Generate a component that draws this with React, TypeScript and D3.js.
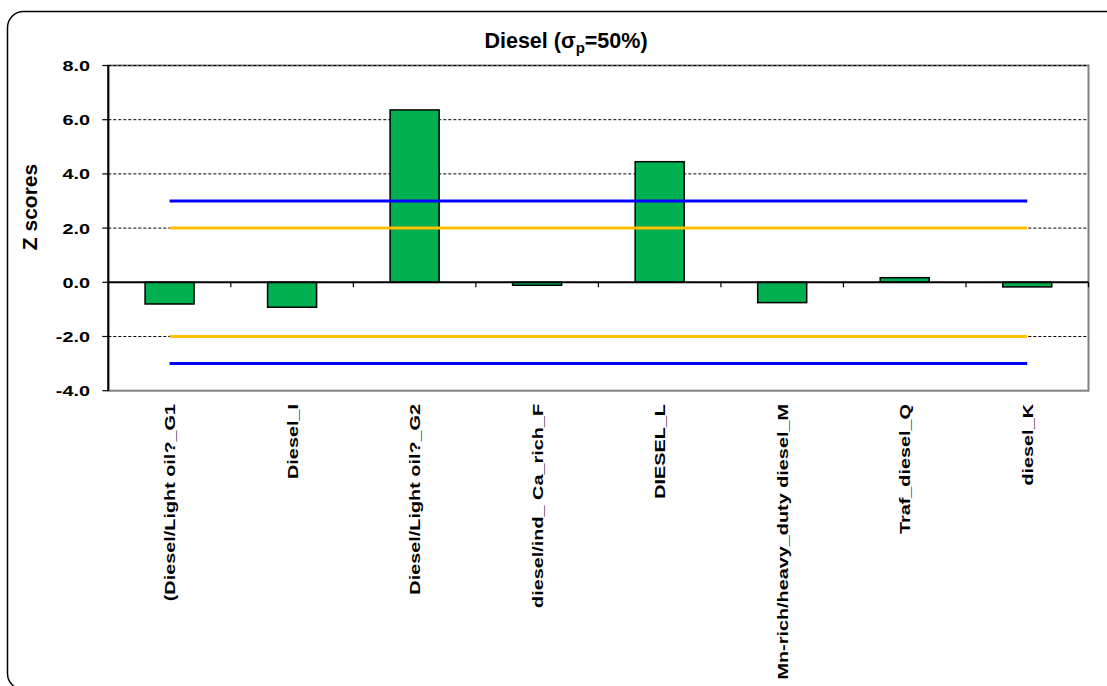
import React from "react";
import * as d3 from "d3";

const categories = [
  "(Diesel/Light oil?_G1",
  "Diesel_I",
  "Diesel/Light oil?_G2",
  "diesel/ind_ Ca_rich_F",
  "DIESEL_L",
  "Mn-rich/heavy_duty diesel_M",
  "Traf_diesel_Q",
  "diesel_K",
];
const zScores = [-0.8, -0.92, 6.36, -0.11, 4.45, -0.75, 0.17, -0.17];
const yTicks = [-4, -2, 0, 2, 4, 6, 8];
const gridValues = [-2, 2, 4, 6, 8];
const warnLimits = [2, -2];
const actionLimits = [3, -3];

const W = 1107;
const H = 686;
const FONT = "'Liberation Sans', Arial, sans-serif";
const STRETCH = 1.28;

export default function App() {
  const left = 108.3;
  const right = 1088.5;
  const top = 65.5;
  const bottom = 390.7;

  const x = d3.scaleBand<string>().domain(categories).range([left, right]).paddingInner(0.6).paddingOuter(0.3);
  const xb = d3.scaleBand<string>().domain(categories).range([left, right]);
  const y = d3.scaleLinear().domain([-4, 8]).range([bottom, top]);

  const firstC = (xb(categories[0]) ?? 0) + xb.bandwidth() / 2;
  const lastC = (xb(categories[categories.length - 1]) ?? 0) + xb.bandwidth() / 2;

  return (
    <svg
      width={W}
      height={H}
      style={{ position: "absolute", left: 0, top: 0, background: "#fff" }}
      fontFamily={FONT}
    >
      <rect x={7.5} y={11.5} width={1130} height={678} rx={16} fill="#fff" stroke="#000" strokeWidth={1.5} />

      {/* plot area border */}
      <rect x={left} y={top} width={right - left} height={bottom - top} fill="none" stroke="#808080" strokeWidth={2} />

      {/* gridlines */}
      {gridValues.map((v) => (
        <line key={"g" + v} x1={left} x2={right} y1={y(v)} y2={y(v)} stroke="#000" strokeWidth={1} strokeDasharray="3,2" />
      ))}

      {/* bars */}
      {zScores.map((v, i) => {
        const c = categories[i];
        const y0 = y(0);
        const y1 = y(v);
        return (
          <rect
            key={"b" + i}
            x={x(c)}
            y={Math.min(y0, y1)}
            width={x.bandwidth()}
            height={Math.abs(y1 - y0)}
            fill="#00B050"
            stroke="#000"
            strokeWidth={1.5}
          />
        );
      })}

      {/* limit lines */}
      {warnLimits.map((v) => (
        <line key={"w" + v} x1={firstC} x2={lastC} y1={y(v)} y2={y(v)} stroke="#FFC000" strokeWidth={3} />
      ))}
      {actionLimits.map((v) => (
        <line key={"a" + v} x1={firstC} x2={lastC} y1={y(v)} y2={y(v)} stroke="#0000FF" strokeWidth={3} />
      ))}

      {/* x axis at zero */}
      <line x1={left} x2={right} y1={y(0)} y2={y(0)} stroke="#000" strokeWidth={2} />
      {categories.map((c, i) => (
        <line
          key={"xt" + i}
          x1={(xb(c) ?? 0) + xb.bandwidth()}
          x2={(xb(c) ?? 0) + xb.bandwidth()}
          y1={y(0)}
          y2={y(0) + 5}
          stroke="#000"
          strokeWidth={1.2}
        />
      ))}

      {/* y axis */}
      <line x1={left} x2={left} y1={top} y2={bottom} stroke="#000" strokeWidth={2} />
      {yTicks.map((t) => (
        <g key={"yt" + t}>
          <line x1={left - 6} x2={left} y1={y(t)} y2={y(t)} stroke="#000" strokeWidth={1.2} />
          <text
            transform={`translate(90,${y(t)}) scale(${STRETCH},1)`}
            dy="0.36em"
            textAnchor="end"
            fontSize={15.5}
            fontWeight="bold"
            fill="#000"
          >
            {t.toFixed(1)}
          </text>
        </g>
      ))}

      {/* x labels */}
      {categories.map((c, i) => {
        const cx = (xb(c) ?? 0) + xb.bandwidth() / 2;
        return (
          <text
            key={"xl" + i}
            transform={`translate(${cx},${404}) rotate(-90) scale(${STRETCH},1)`}
            textAnchor="end"
            dy="0.36em"
            fontSize={15.5}
            fontWeight="bold"
            fill="#000"
          >
            {c}
          </text>
        );
      })}

      {/* y title */}
      <text
        transform={`translate(29,207) rotate(-90)`}
        textAnchor="middle"
        dy="0.36em"
        fontSize={21}
        fontWeight="bold"
        fill="#000"
      >
        Z scores
      </text>

      {/* title */}
      <text x={566} y={48} textAnchor="middle" fontSize={21.5} fontWeight="bold" fill="#000">
        Diesel (σ
        <tspan fontSize={15} dy={5}>p</tspan>
        <tspan dy={-5}>=50%)</tspan>
      </text>
    </svg>
  );
}
